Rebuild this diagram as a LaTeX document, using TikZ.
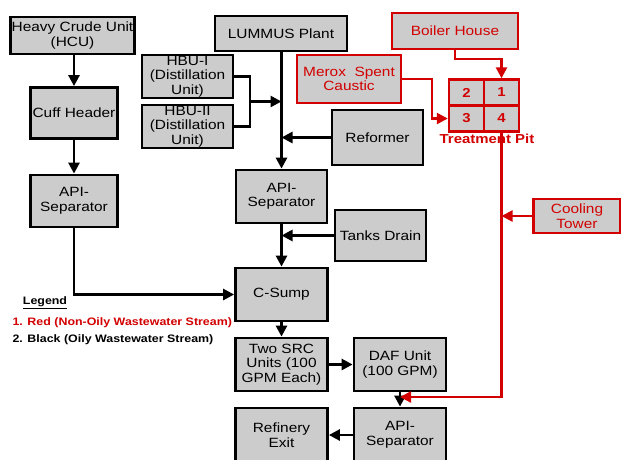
\documentclass[tikz,border=0pt]{standalone}
\usepackage{fontspec}
\setmainfont{Liberation Sans}[FakeStretch=1.15]
\usetikzlibrary{arrows.meta,calc}
\definecolor{boxgray}{RGB}{204,204,204}
\definecolor{pitred}{RGB}{210,0,0}
\begin{document}
\begin{tikzpicture}[x=1pt,y=-1pt,
  box/.style={draw=black,line width=2.8pt,fill=boxgray,align=center,inner sep=1pt,
    font=\fontsize{13.4}{14.5}\selectfont},
  rbox/.style={box,draw=pitred,line width=2.4pt,text=pitred},
  cell/.style={draw=pitred,line width=2.4pt,fill=boxgray,minimum width=35pt,minimum height=26pt,
    inner sep=0pt,text=pitred,font=\fontsize{13}{14}\selectfont\bfseries},
  arr/.style={line width=2.6pt,-{Triangle[length=11pt,width=11pt]}},
  rarr/.style={line width=2.4pt,draw=pitred,-{Triangle[length=11pt,width=11pt]},color=pitred},
  plain/.style={line width=2.6pt}]
\useasboundingbox (0,0) rectangle (621,459);
% black boxes
\node[box,minimum width=123pt,minimum height=37pt] (hcu) at (72.5,35.5) {Heavy Crude Unit\\(HCU)};
\node[box,minimum width=87pt,minimum height=51pt] (cuff) at (74,113) {Cuff Header};
\node[box,minimum width=87pt,minimum height=52pt] (apil) at (74,201) {API-\\Separator};
\node[box,minimum width=132pt,minimum height=35pt] (lummus) at (281,33.5) {LUMMUS Plant};
\node[box,minimum width=91pt,minimum height=43pt] (hbu1) at (187.5,76.5) {HBU-I\\(Distillation\\Unit)};
\node[box,minimum width=91pt,minimum height=43pt] (hbu2) at (187.5,126.5) {HBU-II\\(Distillation\\Unit)};
\node[box,minimum width=91pt,minimum height=55pt] (reformer) at (377.5,137.5) {Reformer};
\node[box,minimum width=91pt,minimum height=53pt] (apim) at (281.5,196.5) {API-\\Separator};
\node[box,minimum width=91pt,minimum height=51pt] (tanks) at (380.5,235.5) {Tanks Drain};
\node[box,minimum width=92pt,minimum height=53pt] (csump) at (281.5,294.5) {C-Sump};
\node[box,minimum width=92pt,minimum height=53pt] (src) at (281.5,364.5) {Two SRC\\Units (100\\GPM Each)};
\node[box,minimum width=92pt,minimum height=53pt] (daf) at (400,364.5) {DAF Unit\\(100 GPM)};
\node[box,minimum width=92pt,minimum height=54pt] (apib) at (400,435) {API-\\Separator};
\node[box,minimum width=92pt,minimum height=54pt] (exit) at (281.5,435) {Refinery\\Exit};
% red boxes
\node[rbox,minimum width=126pt,minimum height=36pt] (boiler) at (455,31) {Boiler House};
\node[rbox,minimum width=104pt,minimum height=48pt] (merox) at (349,79) {Merox\ \ Spent\\Caustic};
\node[rbox,minimum width=87pt,minimum height=34pt] (cool) at (577,216) {Cooling\\Tower};
\node[cell] (c2) at (466.5,92.5) {2};
\node[cell] (c1) at (501.5,92.5) {1};
\node[cell] (c3) at (466.5,118.5) {3};
\node[cell] (c4) at (501.5,118.5) {4};
\node[text=pitred,font=\fontsize{13}{14}\selectfont\bfseries] (pit) at (487,139) {Treatment Pit};
% legend
\node[font=\fontsize{10.8}{12}\selectfont\bfseries] (leg) at (45,303) {\underline{Legend}};
\node[anchor=west,text=pitred,font=\fontsize{10.8}{12}\selectfont\bfseries] (l1) at (9,323) {1. Red (Non-Oily Wastewater Stream)};
\node[anchor=west,font=\fontsize{10.8}{12}\selectfont\bfseries] (l2) at (9,340) {2. Black (Oily Wastewater Stream)};
% black connectors
\draw[arr] (cuff.north |- hcu.south) -- (cuff.north);
\draw[arr] (cuff.south) -- (apil.north);
\draw[arr] (apil.south) |- (csump.west);
\draw[arr] (apim.north |- lummus.south) -- (apim.north);
\coordinate (br) at (250,101.5);
\draw[plain] (hbu1.east) -| (br) |- (hbu2.east);
\draw[arr] (br) -- (br -| apim.north);
\draw[arr] (reformer.west) -- (reformer.west -| apim.north);
\draw[arr] (tanks.west) -- (tanks.west -| apim.north);
\draw[arr] (apim.south) -- (csump.north);
\draw[arr] (csump.south) -- (src.north);
\draw[arr] (src.east) -- (daf.west);
\draw[arr] (daf.south) -- (apib.north);
\draw[arr] (apib.west) -- (apib.west -| exit.east);
% red connectors
\coordinate (bh) at (455,59);
\draw[rarr] (boiler.south) -- (bh) -| (c1.north);
\coordinate (mx) at (432,118.5);
\draw[rarr] (merox.east) -| (mx) -- (c3.west);
\coordinate (jn) at (400,397);
\draw[rarr] (c4.south) |- (jn);
\draw[rarr] (cool.west) -- (cool.west -| c4.south);
\end{tikzpicture}
\end{document}
